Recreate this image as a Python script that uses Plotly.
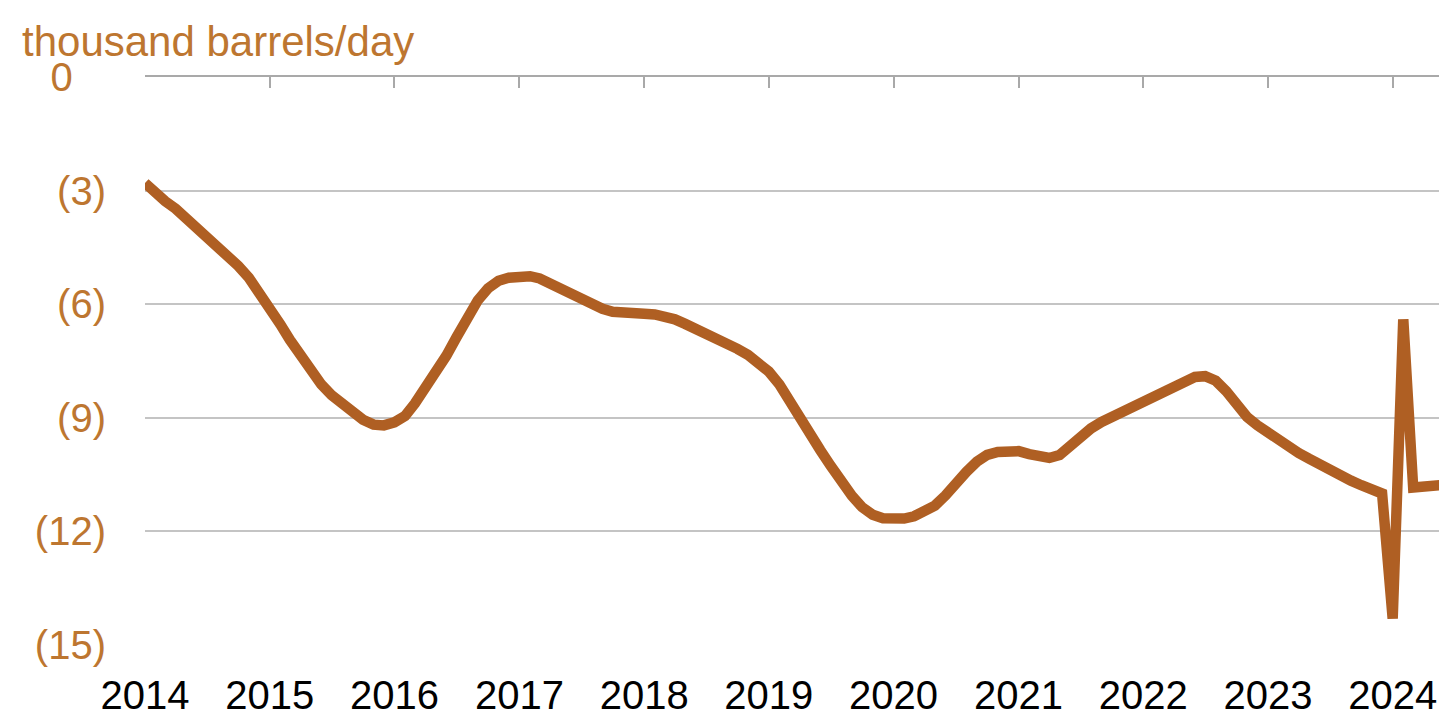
import pandas as pd
import plotly.graph_objects as go

# Monthly values, Jan 2014 .. Jun 2024 (thousand barrels/day)
start_month = "2014-01-01"
values = [
    -2.80, -3.07, -3.28, -3.48, -3.72, -3.97, -4.22, -4.47, -4.73, -4.99, -5.30, -5.68,
    -6.12, -6.53, -6.94, -7.36, -7.79, -8.12, -8.40, -8.64, -8.86, -9.05, -9.18, -9.20,
    -9.12, -8.95, -8.62, -8.22, -7.82, -7.36, -6.87, -6.36, -5.90, -5.58, -5.38, -5.30,
    -5.26, -5.26, -5.32, -5.46, -5.60, -5.74, -5.88, -6.00, -6.12, -6.20, -6.24, -6.25,
    -6.25, -6.27, -6.32, -6.40, -6.52, -6.64, -6.77, -6.90, -7.03, -7.18, -7.34, -7.52,
    -7.78, -8.12, -8.55, -9.03, -9.48, -9.86, -10.27, -10.68, -11.06, -11.36, -11.56, -11.65,
    -11.68, -11.66, -11.60, -11.48, -11.32, -11.05, -10.72, -10.43, -10.16, -9.98, -9.90, -9.86,
    -9.88, -9.96, -10.03, -10.06, -9.98, -9.72, -9.46, -9.28, -9.11, -8.98, -8.85, -8.72,
    -8.56, -8.40, -8.26, -8.12, -8.00, -7.92, -7.90, -8.02, -8.30, -8.66, -8.98, -9.20,
    -9.40, -9.55, -9.72, -9.93, -10.08, -10.24, -10.40, -10.53, -10.66, -10.78, -10.90, -11.00,
    -14.30, -6.40, -10.84, -10.82, -10.80, -10.77,
]
dates = pd.date_range(start_month, periods=len(values), freq="MS")

year_ticks = [f"{y}-01-01" for y in range(2014, 2025)]
year_labels = [str(y) for y in range(2014, 2025)]
y_ticks = [0, -3, -6, -9, -12, -15]
y_labels = ["0\u00a0\u00a0\u00a0", "(3)", "(6)", "(9)", "(12)", "(15)"]
y_title = "thousand barrels/day"

ORANGE_TEXT = "#BD7630"
LINE_COLOR = "#AF5F23"
GRID = "#C4C4C4"
AXIS = "#A9A9A9"
FONT = "Liberation Sans, Arial, sans-serif"

x_range = ["2014-01-01", "2024-06-08"]

fig = go.Figure()
fig.add_trace(go.Scatter(
    x=dates, y=values, mode="lines",
    line=dict(color=LINE_COLOR, width=10.5),
    showlegend=False, hoverinfo="x+y",
))
# invisible trace to activate the top axis
fig.add_trace(go.Scatter(x=[dates[0]], y=[0], xaxis="x2", mode="markers",
                         marker=dict(opacity=0), showlegend=False, hoverinfo="skip"))

# page body has an 8px margin, so the figure is sized/offset to compensate
fig.update_layout(
    width=1439, height=705,
    margin=dict(l=137, r=0, t=69, b=68, autoexpand=False),
    paper_bgcolor="white", plot_bgcolor="white",
    font=dict(family=FONT),
    xaxis=dict(
        type="date", range=x_range, automargin=False,
        tickvals=year_ticks, ticktext=year_labels,
        tickfont=dict(size=40, color="black", family=FONT),
        showgrid=False, zeroline=False, showline=False,
        ticks="", ticklabelstandoff=23,
    ),
    xaxis2=dict(
        type="date", range=x_range, overlaying="x", side="top", automargin=False,
        tickvals=year_ticks, showticklabels=False,
        ticks="inside", ticklen=11, tickwidth=1.5, tickcolor=AXIS,
        showline=True, linecolor=AXIS, linewidth=1.5,
        showgrid=False, zeroline=False,
    ),
    yaxis=dict(
        range=[-15, 0], automargin=False,
        tickvals=y_ticks, ticktext=y_labels,
        tickfont=dict(size=40, color=ORANGE_TEXT, family=FONT),
        showgrid=True, gridcolor=GRID, gridwidth=1.5,
        zeroline=False, showline=False, ticks="", ticklabelstandoff=38,
    ),
    annotations=[dict(
        text=y_title, xref="paper", yref="paper",
        x=(20 - 145) / 1302, y=(645 - 42) / 568,
        xanchor="left", yanchor="middle", showarrow=False,
        font=dict(size=42, color=ORANGE_TEXT, family=FONT),
    )],
)

fig.write_html("out.html")
